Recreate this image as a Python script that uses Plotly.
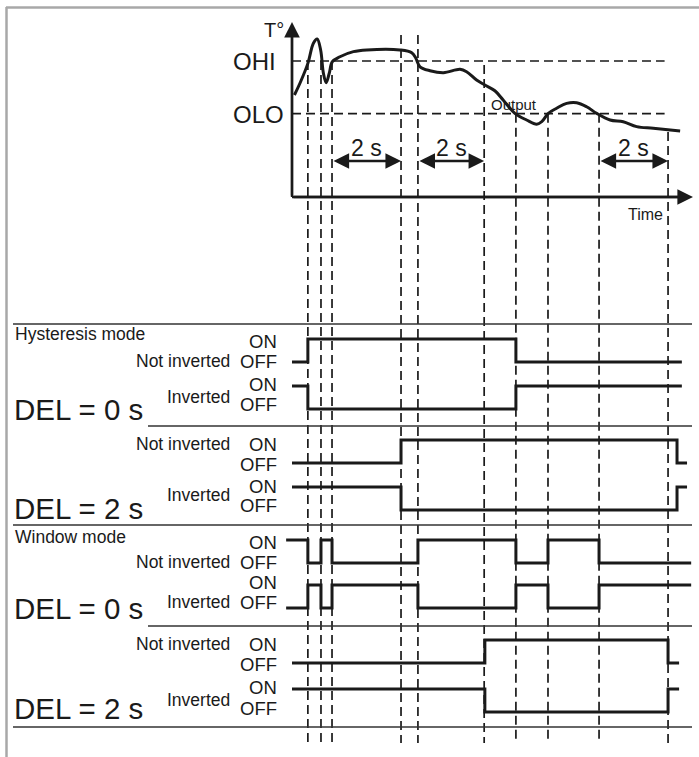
import plotly.graph_objects as go

W, H = 699, 757

# ---------------- data ----------------
# temperature curve: time (s) and temperature (arbitrary units)
temp_time = [0.07, 0.23, 0.46, 0.62, 0.73, 0.83, 0.91, 0.99, 1.08, 1.17, 1.39, 1.78, 2.17,
             3.13, 3.47, 3.59, 3.71, 4.00, 4.39, 4.87, 5.06, 5.35, 5.59, 5.88, 6.12, 6.46,
             6.80, 7.09, 7.24, 7.43, 7.67, 7.96, 8.25, 8.54, 8.83, 9.22, 9.60, 9.99, 10.47, 11.25]
temp_value = [60.0, 66.9, 78.6, 90.4, 92.9, 86.5, 72.8, 67.2, 72.8, 79.6, 82.5, 85.5, 86.5,
              86.5, 84.9, 81.6, 76.6, 74.3, 73.1, 75.1, 73.7, 68.8, 65.9, 62.5, 57.1, 49.2,
              45.3, 42.8, 44.3, 49.2, 52.2, 55.1, 55.5, 53.1, 49.2, 45.3, 44.3, 41.4, 40.4, 38.8]
OHI = 80
OLO = 49
threshold_names = ["OHI", "OLO"]
threshold_values = [OHI, OLO]
threshold_end = 10.8

# switching instants (s) and the temperature level where each marker starts
event_times = [0.46, 0.84, 1.16, 3.16, 3.65, 5.57, 6.49, 7.42, 8.90, 10.90]
event_top = [80, 80, 80, 95.3, 95.3, 77.6, 49, 49, 49, 38.2]

# delays shown with double arrows
delay_start = [1.16, 3.65, 8.90]
delay_end = [3.16, 5.57, 10.90]
delay_label = "2 s"

# output signals: initial state, switching times, start and end time
sig_names = ["H0N", "H0I", "H2N", "H2I", "W0N", "W0I", "W2N", "W2I"]
sig_init = [0, 1, 0, 1, 1, 0, 0, 1]
sig_edges = [
    [0.46, 6.49],
    [0.46, 6.49],
    [3.16, 11.16],
    [3.16, 11.16],
    [0.46, 0.84, 1.16, 3.65, 6.49, 7.42, 8.90],
    [0.46, 0.84, 1.16, 3.65, 6.49, 7.42, 8.90],
    [5.59, 10.90],
    [5.59, 10.90],
]
sig_start = [0.0, 0.0, 0.0, 0.0, -0.17, -0.17, 0.0, 0.0]
sig_end = [11.30, 11.30, 11.45, 11.45, 11.57, 11.57, 11.22, 11.22]
sig_labels = ["Not inverted", "Inverted", "Not inverted", "Inverted",
              "Not inverted", "Inverted", "Not inverted", "Inverted"]
mode_labels = ["Hysteresis mode", "Window mode"]
del_labels = ["DEL = 0 s", "DEL = 2 s", "DEL = 0 s", "DEL = 2 s"]

# ---------------- layout constants (pixels) ----------------
X0_PX, PX_PER_S = 292, 34.5
Y0_PX, PX_PER_T = 197, 1.7
row_off_px = [362, 409, 463, 510, 563, 608, 663, 712]
row_amp_px = 23
row_on_text = [341, 384, 444, 487, 542, 582, 644, 687]
row_off_text = [361, 404, 464, 506, 562, 602, 664, 708]
row_lab_text = [361, 397, 444, 495, 562, 602, 644, 700]
del_text_y = [410, 508, 608, 708]
mode_text_y = [334, 537]
sep_y = [324, 426, 525, 626, 727]
sep_x0 = [13, 148, 13, 148, 13]
SEP_X1 = 692
DASH_BOTTOM_PX = 743
FONT = "Liberation Sans, Arial, Helvetica, sans-serif"
INK = "#1a1a1a"


def t_of(px):
    return (px - X0_PX) / PX_PER_S


def T_of(py):
    return (Y0_PX - py) / PX_PER_T


def px(x):
    return x / W


def py(y):
    return 1 - y / H


fig = go.Figure()

# vertical dashed markers
for et, top in zip(event_times, event_top):
    fig.add_trace(go.Scatter(x=[et, et], y=[top, T_of(DASH_BOTTOM_PX)], mode="lines",
                             line=dict(color=INK, width=1.7, dash="9px,5px"),
                             hoverinfo="skip", showlegend=False))
# threshold lines
for tv in threshold_values:
    fig.add_trace(go.Scatter(x=[0, threshold_end], y=[tv, tv], mode="lines",
                             line=dict(color=INK, width=1.7, dash="9px,5px"),
                             hoverinfo="skip", showlegend=False))
# temperature curve
fig.add_trace(go.Scatter(x=temp_time, y=temp_value, mode="lines",
                         line=dict(color=INK, width=3, shape="spline", smoothing=1.0),
                         hoverinfo="skip", showlegend=False))

# signals
for i in range(len(sig_names)):
    off = row_off_px[i]
    on = off - row_amp_px
    state = sig_init[i]
    xs = [sig_start[i]]
    ys = [on if state else off]
    for e in sig_edges[i]:
        state = 1 - state
        xs.append(e)
        ys.append(on if state else off)
    xs.append(sig_end[i])
    ys.append(ys[-1])
    fig.add_trace(go.Scatter(x=xs, y=ys, mode="lines", yaxis="y2",
                             line=dict(color=INK, width=3, shape="hv"),
                             hoverinfo="skip", showlegend=False))

annotations = []
# axes arrows
annotations.append(dict(x=0, y=T_of(22), ax=0, ay=0, xref="x", yref="y", axref="x", ayref="y",
                        showarrow=True, arrowhead=2, arrowsize=1.3, arrowwidth=2.4,
                        arrowcolor=INK, text=""))
annotations.append(dict(x=t_of(693), y=0, ax=0, ay=0, xref="x", yref="y", axref="x", ayref="y",
                        showarrow=True, arrowhead=2, arrowsize=1.3, arrowwidth=2.4,
                        arrowcolor=INK, text=""))
# delay arrows
for a, b in zip(delay_start, delay_end):
    annotations.append(dict(x=b, y=T_of(161), ax=a, ay=T_of(161), xref="x", yref="y",
                            axref="x", ayref="y", showarrow=True, arrowhead=2,
                            arrowside="end+start", arrowsize=1.3, arrowwidth=2.4,
                            arrowcolor=INK, text=""))
    annotations.append(dict(x=(a + b) / 2, y=T_of(148), xref="x", yref="y", showarrow=False,
                            text=delay_label, font=dict(family=FONT, size=23, color=INK)))


def txt(text, x, y, size, xanchor="left"):
    annotations.append(dict(x=px(x), y=py(y), xref="paper", yref="paper", text=text,
                            showarrow=False, xanchor=xanchor, yanchor="middle", borderpad=0,
                            font=dict(family=FONT, size=size, color=INK)))


txt("T°", 285, 30, 20, "right")
txt(threshold_names[0], 277, 62, 24, "right")
txt(threshold_names[1], 285, 115, 24, "right")
txt("Output", 514, 105, 15, "center")
txt("Time", 645, 214, 16, "center")

for i in range(len(sig_names)):
    txt("ON", 278, row_on_text[i], 18.5, "right")
    txt("OFF", 278, row_off_text[i], 18.5, "right")
    txt(sig_labels[i], 231, row_lab_text[i], 17.5, "right")
for lab, y in zip(mode_labels, mode_text_y):
    txt(lab, 14, y, 17.5, "left")
for lab, y in zip(del_labels, del_text_y):
    txt(lab, 13, y, 29.5, "left")

shapes = []
# frame
shapes.append(dict(type="line", xref="paper", yref="paper", x0=px(6), x1=1, y0=py(7.5), y1=py(7.5),
                   line=dict(color="#a8a8a8", width=2.5)))
shapes.append(dict(type="line", xref="paper", yref="paper", x0=px(6.5), x1=px(6.5), y0=py(7), y1=0,
                   line=dict(color="#a8a8a8", width=2.5)))
# row separators
for y, x0 in zip(sep_y, sep_x0):
    shapes.append(dict(type="line", xref="paper", yref="paper", x0=px(x0), x1=px(SEP_X1),
                       y0=py(y), y1=py(y), line=dict(color="#333333", width=1.7)))

fig.update_layout(
    width=W, height=H, margin=dict(l=0, r=0, t=0, b=0),
    paper_bgcolor="white", plot_bgcolor="white",
    xaxis=dict(range=[t_of(0), t_of(W)], visible=False, fixedrange=True),
    yaxis=dict(range=[T_of(H), T_of(0)], visible=False, fixedrange=True, domain=[0, 1]),
    yaxis2=dict(range=[H, 0], visible=False, overlaying="y", fixedrange=True),
    annotations=annotations, shapes=shapes,
)

# axes lines (drawn as data lines on the temperature axes)
fig.add_trace(go.Scatter(x=[0, 0], y=[0, T_of(30)], mode="lines",
                         line=dict(color=INK, width=2.4), hoverinfo="skip", showlegend=False))
fig.add_trace(go.Scatter(x=[0, t_of(684)], y=[0, 0], mode="lines",
                         line=dict(color=INK, width=2.4), hoverinfo="skip", showlegend=False))

fig.write_html("out.html", config={"displayModeBar": False, "staticPlot": True},
               post_script="document.body.style.margin='0';")
